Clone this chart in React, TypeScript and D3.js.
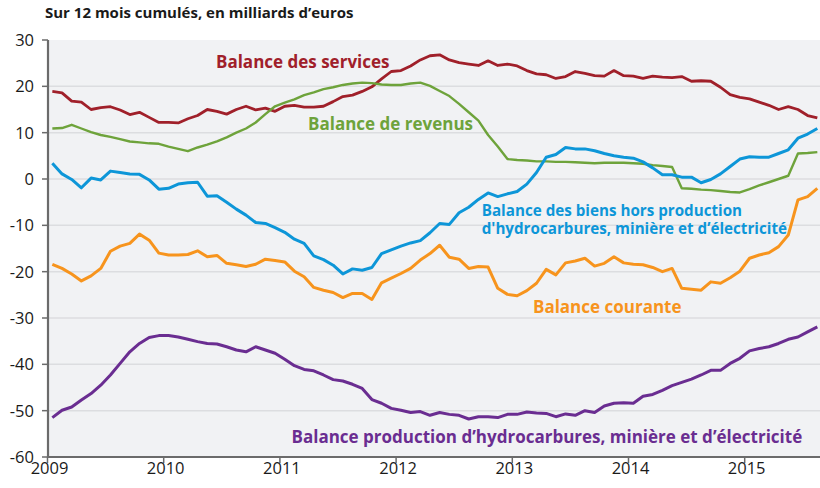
import React from "react";
import * as d3 from "d3";

const START_YEAR = 2009;
const YEAR_TICKS = [2009, 2010, 2011, 2012, 2013, 2014, 2015];
const VALUE_TICKS = [30, 20, 10, 0, -10, -20, -30, -40, -50, -60];

const services = [18.9,18.6,16.8,16.6,15.0,15.4,15.6,14.9,13.9,14.4,13.3,12.2,12.2,12.1,13.0,13.7,15.0,14.6,14.0,15.0,15.7,14.9,15.3,14.6,15.7,15.9,15.5,15.5,15.7,16.7,17.8,18.1,18.9,19.9,21.6,23.2,23.4,24.4,25.7,26.6,26.8,25.7,25.1,24.8,24.5,25.5,24.5,24.8,24.4,23.4,22.7,22.5,21.7,22.1,23.2,22.8,22.3,22.2,23.4,22.3,22.2,21.7,22.2,22.0,21.9,22.1,21.1,21.2,21.1,19.8,18.2,17.6,17.3,16.6,15.9,15.0,15.6,15.0,13.7,13.2];
const revenus = [10.9,11.0,11.7,10.9,10.1,9.5,9.1,8.6,8.1,7.9,7.7,7.6,7.0,6.5,6.0,6.8,7.4,8.1,9.0,10.0,10.9,12.2,14.0,15.7,16.5,17.2,18.1,18.7,19.4,19.8,20.3,20.6,20.8,20.7,20.4,20.3,20.3,20.6,20.8,20.1,19.0,17.9,16.2,14.4,12.6,9.5,7.0,4.3,4.1,4.0,3.8,3.8,3.7,3.7,3.6,3.5,3.4,3.5,3.5,3.5,3.4,3.3,3.0,2.8,2.6,-2.0,-2.1,-2.3,-2.4,-2.6,-2.8,-2.9,-2.2,-1.4,-0.7,0.0,0.7,5.5,5.6,5.8];
const biens = [3.4,1.1,-0.1,-1.9,0.2,-0.2,1.7,1.4,1.1,1.0,-0.2,-2.2,-2.0,-1.1,-0.8,-0.7,-3.7,-3.6,-5.0,-6.5,-7.8,-9.4,-9.6,-10.5,-11.5,-13.0,-13.9,-16.6,-17.4,-18.6,-20.5,-19.4,-19.7,-19.1,-16.1,-15.3,-14.5,-13.8,-13.3,-11.6,-9.6,-9.8,-7.3,-6.1,-4.4,-3.0,-3.8,-3.2,-2.7,-1.1,1.4,4.7,5.3,6.8,6.5,6.5,6.1,5.5,5.0,4.7,4.5,3.7,2.4,0.9,0.9,0.4,0.4,-0.8,-0.1,1.1,2.7,4.3,4.8,4.7,4.7,5.5,6.3,8.8,9.7,10.9];
const courante = [-18.4,-19.3,-20.5,-22.0,-20.9,-19.3,-15.6,-14.5,-13.9,-11.9,-13.2,-16.0,-16.4,-16.4,-16.3,-15.5,-16.8,-16.5,-18.2,-18.5,-18.9,-18.4,-17.3,-17.6,-17.9,-19.9,-21.1,-23.4,-24.0,-24.5,-25.6,-24.7,-24.7,-26.0,-22.4,-21.4,-20.4,-19.3,-17.5,-16.1,-14.3,-16.9,-17.3,-19.3,-18.9,-19.0,-23.6,-24.9,-25.2,-24.1,-22.5,-19.5,-20.7,-18.1,-17.7,-17.1,-18.8,-18.2,-16.8,-18.1,-18.4,-18.5,-19.1,-20.0,-19.3,-23.6,-23.8,-24.0,-22.2,-22.5,-21.3,-19.9,-17.1,-16.4,-15.9,-14.6,-12.1,-4.5,-3.8,-2.0];
const hydrocarbures = [-51.5,-49.9,-49.2,-47.7,-46.3,-44.5,-42.3,-39.8,-37.3,-35.5,-34.2,-33.8,-33.8,-34.1,-34.6,-35.1,-35.5,-35.6,-36.2,-36.9,-37.3,-36.2,-36.9,-37.6,-38.9,-40.3,-41.1,-41.4,-42.3,-43.3,-43.6,-44.3,-45.2,-47.6,-48.4,-49.5,-49.9,-50.4,-50.2,-51.0,-50.4,-50.8,-51.0,-51.8,-51.3,-51.3,-51.5,-50.8,-50.8,-50.3,-50.5,-50.6,-51.3,-50.7,-51.0,-50.0,-50.4,-49.0,-48.4,-48.3,-48.4,-46.9,-46.5,-45.6,-44.6,-43.9,-43.2,-42.3,-41.3,-41.3,-39.8,-38.7,-37.1,-36.6,-36.2,-35.5,-34.6,-34.1,-33.0,-31.9];

const SERIES = [
  { key: "services", values: services, color: "#a0202a", width: 2.8 },
  { key: "revenus", values: revenus, color: "#6ea33b", width: 2.4 },
  { key: "biens", values: biens, color: "#0d96d8", width: 3 },
  { key: "courante", values: courante, color: "#f7941d", width: 3 },
  { key: "hydrocarbures", values: hydrocarbures, color: "#6a2d91", width: 3 },
];

const LABELS = [
  { lines: ["Balance des services"], color: "#a0202a", x: 2010.45, y: 23.97, size: 17 },
  { lines: ["Balance de revenus"], color: "#6ea33b", x: 2011.242, y: 10.58, size: 17 },
  { lines: ["Balance des biens hors production", "d'hydrocarbures, minière et d’électricité"], color: "#0d96d8", x: 2012.737, y: -8.0, size: 15.2 },
  { lines: ["Balance courante"], color: "#f7941d", x: 2013.178, y: -28.9, size: 17 },
  { lines: ["Balance production d’hydrocarbures, minière et d’électricité"], color: "#6a2d91", x: 2011.1, y: -57.0, size: 17 },
];

const TITLE = "Sur 12 mois cumulés, en milliards d’euros";

const W = 820, H = 488;
const PL = 48, PR = 820, PT = 40, PB = 457;
const FONT = "'Open Sans', 'Noto Sans', sans-serif";

export default function App() {
  const x = d3.scaleLinear().domain([2009, 2015 + 8 / 12]).range([47.5, 47.5 + (6 + 8 / 12) * 116.2]);
  const y = d3.scaleLinear().domain([-60, 30]).range([PB, PT]);
  const line = d3
    .line<number>()
    .x((_, i) => x(START_YEAR + (i + 0.5) / 12))
    .y((d) => y(d))
    .curve(d3.curveLinear);

  return (
    <svg width={W} height={H} style={{ position: "absolute", left: 0, top: 0 }} fontFamily={FONT}>
      <defs>
        <clipPath id="plot">
          <rect x={PL} y={PT} width={PR - PL} height={PB - PT} />
        </clipPath>
      </defs>
      <rect x={0} y={0} width={W} height={H} fill="#ffffff" />
      <text x={45} y={18} fontSize={15} fontWeight={700} fill="#1a1a1a">{TITLE}</text>
      <rect x={PL} y={PT} width={PR - PL} height={PB - PT} fill="#f1f2f4" />
      {VALUE_TICKS.filter((v) => v !== -60 && v !== 30).map((v) => (
        <line key={v} x1={PL} x2={PR} y1={y(v)} y2={y(v)} stroke="#dcdde0" strokeWidth={1.5} />
      ))}
      {VALUE_TICKS.map((v) => (
        <g key={"yt" + v}>
          <line x1={PL - 6} x2={PL} y1={y(v)} y2={y(v)} stroke="#6b6b6b" strokeWidth={1.5} />
          <text x={34} y={y(v)} dy="0.36em" textAnchor="end" fontSize={16.5} fill="#1a1a1a">{v}</text>
        </g>
      ))}
      {YEAR_TICKS.map((yr) => (
        <g key={"xt" + yr}>
          <line x1={x(yr)} x2={x(yr)} y1={PB} y2={PB + 6} stroke="#6b6b6b" strokeWidth={1.5} />
          <text x={x(yr) + 2} y={474} textAnchor="middle" fontSize={16.5} fill="#1a1a1a">{yr}</text>
        </g>
      ))}
      <g clipPath="url(#plot)">
        {SERIES.map((s) => (
          <path key={s.key} d={line(s.values) || ""} fill="none" stroke={s.color} strokeWidth={s.width} strokeLinejoin="round" />
        ))}
      </g>
      <line x1={PL} x2={PL} y1={PT} y2={PB + 1} stroke="#6b6b6b" strokeWidth={2.2} />
      <line x1={PL - 1} x2={PR} y1={PB} y2={PB} stroke="#6b6b6b" strokeWidth={2.2} />
      {LABELS.map((l, li) =>
        l.lines.map((t, i) => (
          <text key={li + "-" + i} x={x(l.x)} y={y(l.y) + i * 17.5} fontSize={l.size} fontWeight={700} fill={l.color}>
            {t}
          </text>
        ))
      )}
    </svg>
  );
}
